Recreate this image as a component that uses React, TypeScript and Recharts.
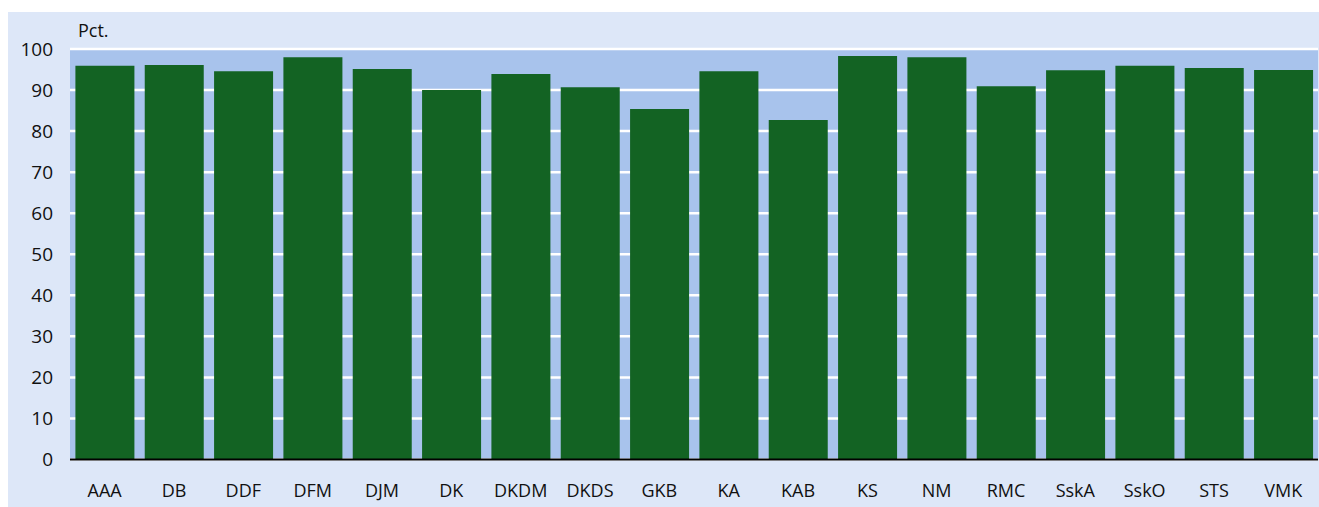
import React from 'react';
import { BarChart, Bar, XAxis, YAxis, CartesianGrid } from 'recharts';

const categories = ['AAA', 'DB', 'DDF', 'DFM', 'DJM', 'DK', 'DKDM', 'DKDS', 'GKB', 'KA', 'KAB', 'KS', 'NM', 'RMC', 'SskA', 'SskO', 'STS', 'VMK'];
const shares = [95.9, 96.1, 94.6, 98.0, 95.1, 90.0, 93.9, 90.7, 85.4, 94.6, 82.7, 98.3, 98.0, 90.9, 94.8, 95.9, 95.4, 94.9];
const yTicks = [0, 10, 20, 30, 40, 50, 60, 70, 80, 90, 100];

const data = categories.map((name, i) => ({ name, value: shares[i] }));

const font = '"Open Sans", sans-serif';

const App: React.FC = () => {
  return (
    <div
      style={{
        position: 'absolute',
        left: 8,
        top: 12,
        width: 1311,
        height: 495,
        background: '#dde7f8',
        fontFamily: font,
      }}
    >
      <div style={{ position: 'absolute', left: 70, top: 8, fontSize: 18, lineHeight: '20px', color: '#111' }}>Pct.</div>
      <BarChart
        width={1311}
        height={495}
        data={data}
        margin={{ top: 37, right: 1, left: 0, bottom: 0 }}
        barCategoryGap="7.8%"
      >
        <CartesianGrid vertical={false} stroke="#ffffff" strokeWidth={2.5} fill="#a8c3ec" fillOpacity={1} />
        <XAxis
          dataKey="name"
          height={47.5}
          axisLine={{ stroke: '#000', strokeWidth: 2 }}
          tickLine={false}
          tickSize={6}
          tickMargin={19}
          interval={0}
          tick={{ fontSize: 18, fill: '#111', fontFamily: font }}
        />
        <YAxis
          width={62}
          domain={[0, 100]}
          ticks={yTicks}
          axisLine={false}
          tickLine={false}
          tickSize={6}
          tickMargin={11}
          tick={{ fontSize: 19, fill: '#111', fontFamily: font }}
        />
        <Bar dataKey="value" fill="#136323" isAnimationActive={false} />
      </BarChart>
    </div>
  );
};

export default App;
